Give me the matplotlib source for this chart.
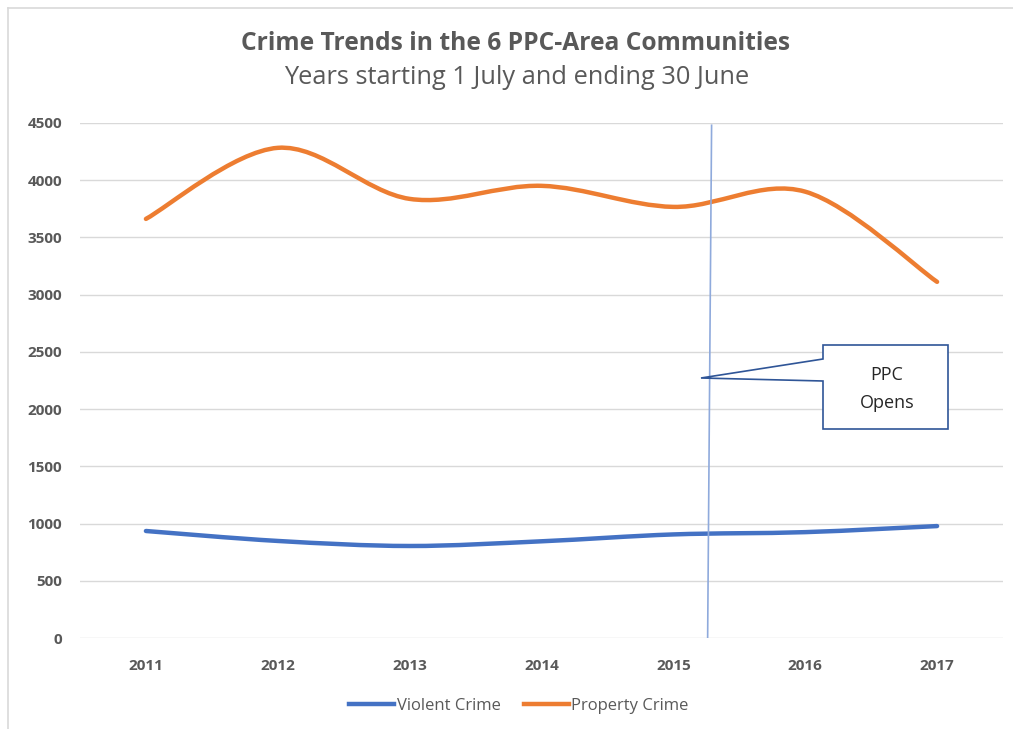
import matplotlib
matplotlib.use("Agg")
import matplotlib.pyplot as plt
from matplotlib.path import Path
from matplotlib.patches import PathPatch, Polygon
from matplotlib.lines import Line2D
import numpy as np

years = ["2011", "2012", "2013", "2014", "2015", "2016", "2017"]
violent = [935, 848, 804, 845, 905, 925, 978]
property_ = [3662, 4283, 3837, 3951, 3767, 3900, 3112]
yticks = [0, 500, 1000, 1500, 2000, 2500, 3000, 3500, 4000, 4500]
title = "Crime Trends in the 6 PPC-Area Communities"
subtitle = "Years starting 1 July and ending 30 June"
ppc_x = 4.27  # category position of the PPC opening line

plt.rcParams['font.family'] = ['Open Sans', 'DejaVu Sans']

fig = plt.figure(figsize=(10.13, 7.29), dpi=100)
ax = fig.add_axes([80/1013, 1-638/729, (1003-80)/1013, (638-123)/729])

def smooth_path(xs, ys):
    pts = np.column_stack([xs, ys]).astype(float)
    verts = [pts[0]]
    codes = [Path.MOVETO]
    n = len(pts)
    for i in range(n - 1):
        p0 = pts[i - 1] if i > 0 else pts[i]
        p1 = pts[i]
        p2 = pts[i + 1]
        p3 = pts[i + 2] if i + 2 < n else pts[i + 1]
        c1 = p1 + (p2 - p0) / 6.0
        c2 = p2 - (p3 - p1) / 6.0
        verts += [c1, c2, p2]
        codes += [Path.CURVE4] * 3
    return Path(verts, codes)

x = np.arange(len(years))
for ys, col in [(violent, '#4472C4'), (property_, '#ED7D31')]:
    ax.add_patch(PathPatch(smooth_path(x, ys), facecolor='none', edgecolor=col,
                           lw=3.2, capstyle='round', zorder=3))

ax.set_xlim(-0.5, 6.5)
ax.set_ylim(0, 4500)
ax.set_yticks(yticks)
ax.set_xticks(x)
ax.set_xticklabels(years)
ax.grid(axis='y', color='#D9D9D9', lw=1.0)
ax.set_axisbelow(True)
for s in ax.spines.values():
    s.set_visible(False)
ax.tick_params(length=0, labelsize=11, labelcolor='#595959')
ax.tick_params(axis='y', pad=13)
ax.tick_params(axis='x', pad=15)
for lab in ax.get_xticklabels() + ax.get_yticklabels():
    lab.set_fontweight('bold')

# PPC opening vertical line
ax.plot([ppc_x + 0.02, ppc_x - 0.01], [4480, 0], color='#8FAADC', lw=1.2, zorder=4)

# Callout box
def d2a(px, py):
    inv = ax.transData.inverted()
    return inv.transform(fig.dpi_scale_trans.transform((px/100, (729-py)/100)))

poly_px = [(823, 345), (948, 345), (948, 429), (823, 429), (823, 381), (701, 378), (823, 359)]
fig.canvas.draw()
poly = [d2a(px, py) for px, py in poly_px]
ax.add_patch(Polygon(poly, closed=True, facecolor='white', edgecolor='#2F5597', lw=1.2, zorder=5))
cx, cy = d2a(887, 389)
ax.text(cx, cy, "PPC\nOpens", ha='center', va='center', fontsize=13, color='#262626',
        linespacing=1.75, zorder=6)

fig.text(516/1013, 1-44/729, title, ha='center', va='center', fontsize=17.7, fontweight='bold', color='#595959')
fig.text(517/1013, 1-78/729, subtitle, ha='center', va='center', fontsize=18.3, color='#595959')

handles = [Line2D([], [], color='#4472C4', lw=3.2), Line2D([], [], color='#ED7D31', lw=3.2)]
fig.legend(handles, ["Violent Crime", "Property Crime"], loc='center', bbox_to_anchor=(519/1013, 1-706/729),
           ncol=2, frameon=False, fontsize=12, labelcolor='#595959', handlelength=2.7,
           handletextpad=0.15, columnspacing=1.4)

# light border
fig.add_artist(Line2D([8/1013, 8/1013], [0, 1-8/729], transform=fig.transFigure, color='#D9D9D9', lw=1.2))
fig.add_artist(Line2D([8/1013, 1], [1-8/729, 1-8/729], transform=fig.transFigure, color='#D9D9D9', lw=1.2))

fig.savefig("out.png", dpi=100)
